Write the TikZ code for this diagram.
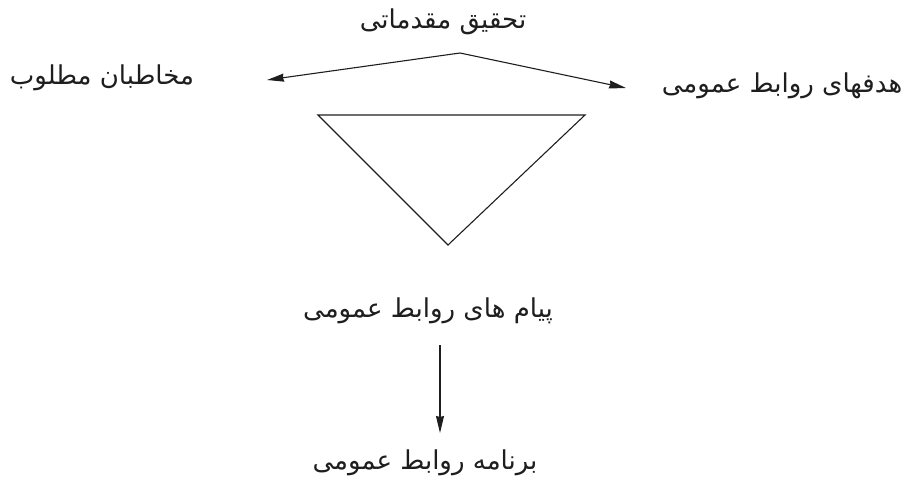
\documentclass[tikz,border=0pt]{standalone}
\usepackage{fontspec}
\TeXXeTstate=1
\newfontfamily\arabicfont[Script=Arabic]{DejaVu Sans}
\usetikzlibrary{arrows.meta}
\definecolor{inkgray}{HTML}{1E1E1E}
\tikzset{
  label/.style={font=\arabicfont\fontsize{26}{30}\selectfont, text=inkgray, inner sep=2pt},
  pointer/.style={draw=inkgray, line width=1.1pt, -{Stealth[length=17pt, width=8pt, inset=1pt]}}
}
\begin{document}
\begin{tikzpicture}[x=1pt, y=-1pt]
  \useasboundingbox (0, 0) rectangle (905, 481);

  % Texts
  \node[label] (research) at (443, 22) {\beginR تحقیق مقدماتی\endR};
  \node[label] (audience) at (102, 78) {\beginR مخاطبان مطلوب\endR};
  \node[label] (goals) at (782, 86) {\beginR هدفهای روابط عمومی\endR};
  \node[label] (messages) at (428, 311) {\beginR پیام های روابط عمومی\endR};
  \node[label] (program) at (425, 463) {\beginR برنامه روابط عمومی\endR};

  % Split arrows below the research
  \coordinate (apex) at (460, 53);
  \coordinate (lefttip) at (267, 80);
  \coordinate (righttip) at (626, 88);
  \draw[pointer] (apex) -- (lefttip);
  \draw[pointer] (apex) -- (righttip);

  % Triangle
  \draw[inkgray, line width=1.1pt] (318, 115) -- (585, 115) -- (448, 245) -- cycle;

  % Down arrow to the program
  \coordinate (downstart) at (440, 345);
  \coordinate (downtip) at (440, 433);
  \draw[pointer] (downstart) -- (downtip);
\end{tikzpicture}
\end{document}
